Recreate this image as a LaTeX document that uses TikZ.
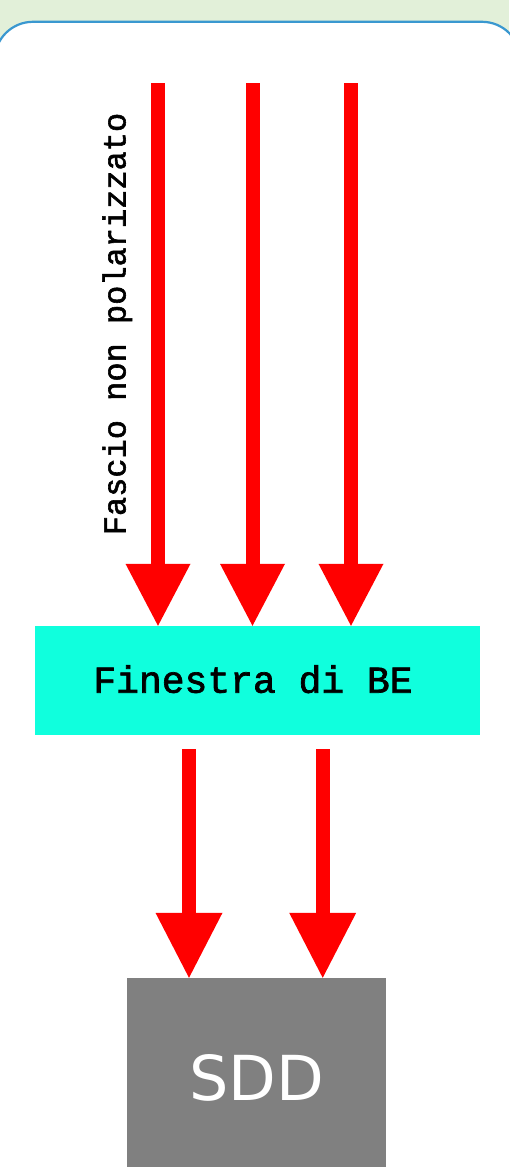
\documentclass[tikz,border=0pt]{standalone}
\usepackage{fontspec}
\usetikzlibrary{arrows.meta}
\newfontfamily\monof[FakeBold=1.8]{Liberation Mono}
\newfontfamily\sddf{DejaVu Sans}
\definecolor{bggreen}{HTML}{E2F0D9}
\definecolor{panelblue}{HTML}{3A98D0}
\definecolor{becyan}{HTML}{10FFDD}
\definecolor{sddgray}{HTML}{808080}
\definecolor{beamred}{HTML}{FF0000}
\tikzset{
  beam/.style={draw=beamred, line width=14pt,
    -{Triangle[width=65pt,length=62pt,line width=0pt]}},
  lowbeam/.style={draw=beamred, line width=14pt,
    -{Triangle[width=67pt,length=65pt,line width=0pt]}},
  bebox/.style={fill=becyan, draw=none, inner sep=0pt,
    minimum width=444.7pt, minimum height=109pt},
  sddbox/.style={fill=sddgray, draw=none, inner sep=0pt,
    minimum width=258.4pt, minimum height=199pt,
    text=white, font=\sddf\fontsize{62}{62}\selectfont},
  monolabel/.style={inner sep=0pt, font=\monof\fontsize{38}{38}\selectfont},
  sidelabel/.style={inner sep=0pt, rotate=90, anchor=base,
    font=\monof\fontsize{32}{32}\selectfont}
}
\begin{document}
\begin{tikzpicture}[x=1pt,y=-1pt]
\useasboundingbox (0,0) rectangle (509,1167);
\fill[bggreen] (0,0) rectangle (509,1167);
\draw[panelblue, line width=2.2pt, fill=white, rounded corners=38.5pt]
  (-5.5,21.8) rectangle (520.5,1220);

\node[bebox] (be) at (257.6,680.5) {};
\node[monolabel, anchor=base] (betext) at (253,692.7) {Finestra di BE};
\node[sddbox] (sdd) at (256.5,1077.5) {SDD};

\node[sidelabel] (fascio) at (125.5,324) {Fascio non polarizzato};

\coordinate (a1) at (158,83);
\coordinate (a2) at (252.5,83);
\coordinate (a3) at (351,83);
\coordinate (b1) at (189,749);
\coordinate (b2) at (322.7,749);

\draw[beam] (a1) -- (a1 |- be.north);
\draw[beam] (a2) -- (a2 |- be.north);
\draw[beam] (a3) -- (a3 |- be.north);
\draw[lowbeam] (b1) -- (b1 |- sdd.north);
\draw[lowbeam] (b2) -- (b2 |- sdd.north);
\end{tikzpicture}
\end{document}
